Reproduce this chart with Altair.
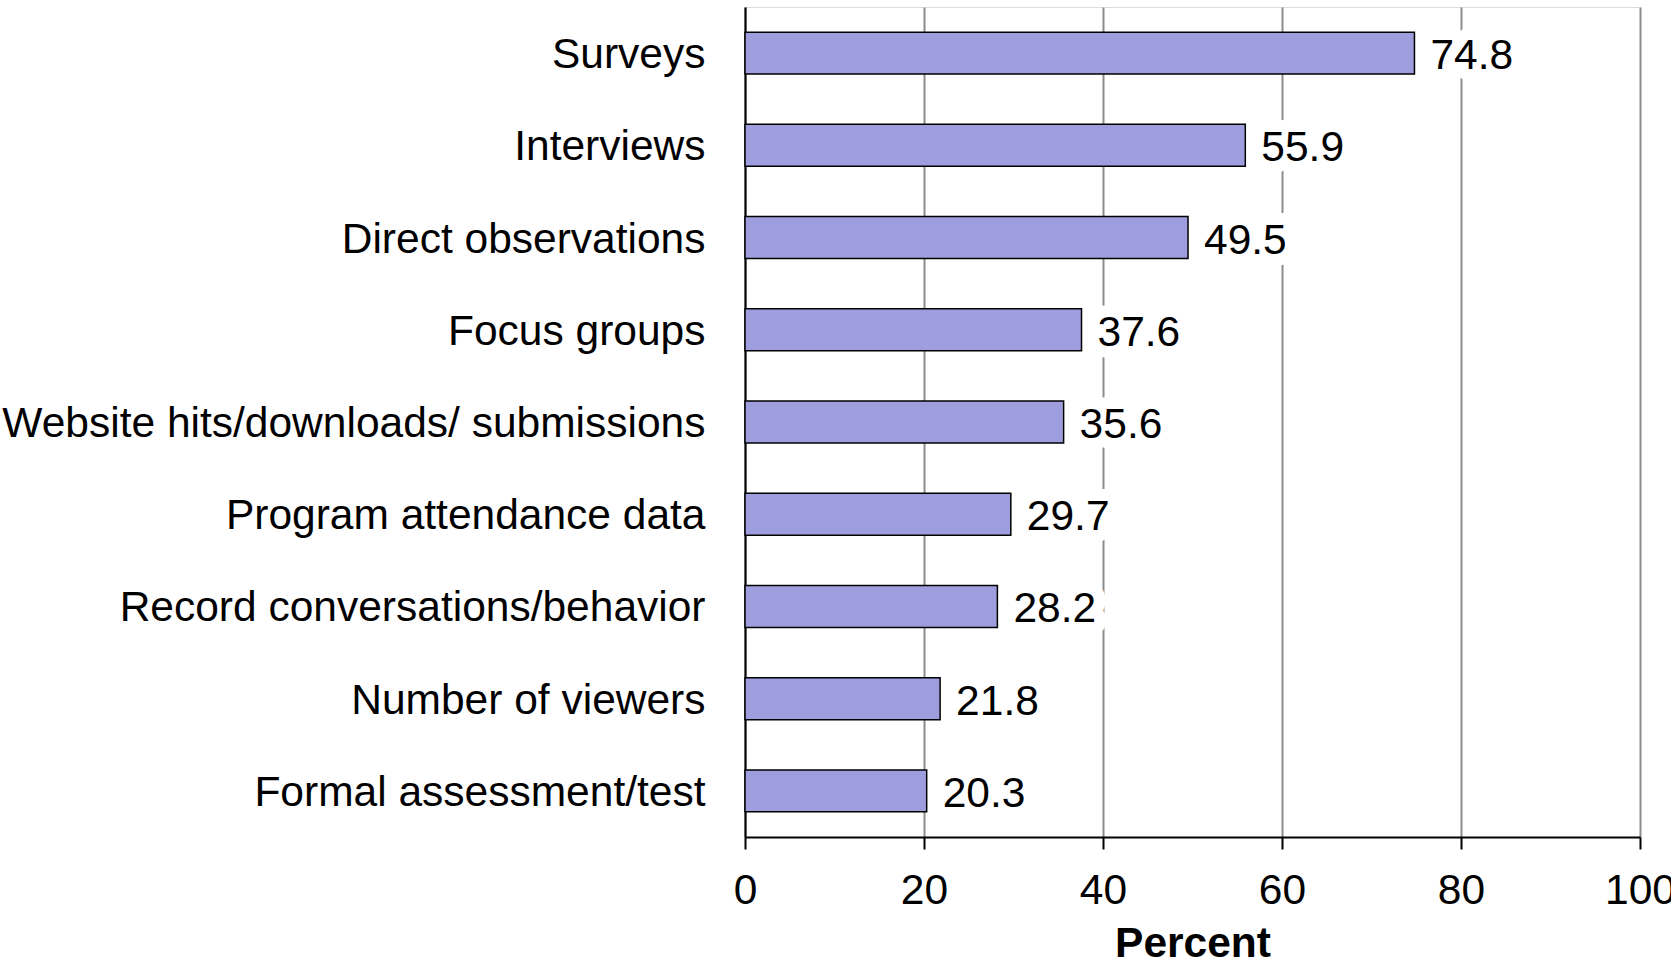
import altair as alt
import pandas as pd

categories = [
    "Surveys",
    "Interviews",
    "Direct observations",
    "Focus groups",
    "Website hits/downloads/ submissions",
    "Program attendance data",
    "Record conversations/behavior",
    "Number of viewers",
    "Formal assessment/test",
]
values = [74.8, 55.9, 49.5, 37.6, 35.6, 29.7, 28.2, 21.8, 20.3]
x_ticks = [0, 20, 40, 60, 80, 100]

df = pd.DataFrame({"cat": categories, "val": values})
df["label"] = [f"{v:.1f}" for v in values]

FONT = "Liberation Sans"
FS = 42.5

y_enc = alt.Y(
    "cat:N",
    sort=categories,
    title=None,
    scale=alt.Scale(paddingInner=0.545, paddingOuter=0.2725),
    axis=alt.Axis(
        domain=True, domainColor="black", domainWidth=2,
        ticks=False, labelPadding=40, labelFontSize=FS, labelFont=FONT,
        labelColor="black", labelLimit=1000, grid=False, labelOffset=2,
    ),
)
x_enc = alt.X(
    "val:Q",
    title="Percent",
    scale=alt.Scale(domain=[0, 100], nice=False),
    axis=alt.Axis(
        values=x_ticks, format="d",
        domainColor="black", domainWidth=2,
        tickColor="black", tickWidth=2, tickSize=12,
        labelPadding=20, labelFontSize=FS, labelFont=FONT, labelColor="black",
        labelOverlap=False, labelFlush=False,
        grid=True, gridColor="#8c8c8c", gridWidth=2,
        titleFont=FONT, titleFontSize=FS, titleFontWeight="bold",
        titleColor="black", titlePadding=11,
    ),
)

base = alt.Chart(df)
bars = base.mark_bar(color="#9e9ede", stroke="black", strokeWidth=1.5).encode(y=y_enc, x=x_enc)
halo = base.mark_text(
    align="left", baseline="middle", dx=16, dy=3, font=FONT, fontSize=FS,
    color="white", stroke="white", strokeWidth=24, strokeJoin="round",
).encode(y=alt.Y("cat:N", sort=categories), x=alt.X("val:Q"), text="label:N")
text = base.mark_text(
    align="left", baseline="middle", dx=16, dy=3, font=FONT, fontSize=FS, color="black",
).encode(y=alt.Y("cat:N", sort=categories), x=alt.X("val:Q"), text="label:N")

chart = (
    alt.layer(bars, halo, text)
    .properties(
        width=895, height=830,
        autosize=alt.AutoSizeParams(type="none"),
        padding={"left": 745, "top": 7, "right": 31, "bottom": 129},
    )
    .configure_view(stroke=None)
    .configure(background="white")
)

chart.save("out.html", embed_options={"renderer": "svg", "actions": False})
